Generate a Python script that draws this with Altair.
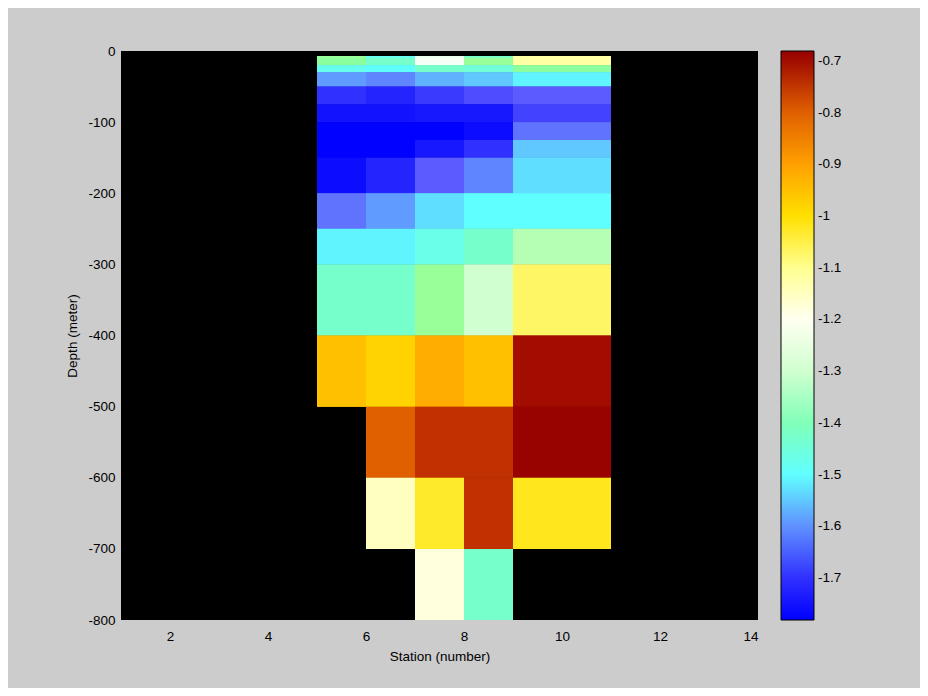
import altair as alt
import pandas as pd

# Station column edges (pcolor-style cells)
x_left = [5, 6, 7, 8, 9]
x_right = [6, 7, 8, 9, 11]

# Depth edges (meter), top to bottom
depth_top = [-7, -10, -20, -30, -50, -75, -100, -125, -150, -200, -250, -300, -400, -500, -600, -700]
depth_bot = [-10, -20, -30, -50, -75, -100, -125, -150, -200, -250, -300, -400, -500, -600, -700, -800]

# Cell values per depth row (columns: stations 5,6,7,8,9-11); None = no data
values = [
    [-1.36, -1.48, -1.27, -1.42, -1.12],
    [-1.38, -1.43, -1.26, -1.36, -1.12],
    [-1.48, -1.50, -1.43, -1.45, -1.38],
    [-1.59, -1.61, -1.57, -1.55, -1.51],
    [-1.70, -1.72, -1.69, -1.67, -1.655],
    [-1.75, -1.75, -1.74, -1.74, -1.68],
    [-1.78, -1.78, -1.78, -1.76, -1.63],
    [-1.78, -1.78, -1.74, -1.70, -1.55],
    [-1.76, -1.72, -1.655, -1.61, -1.53],
    [-1.63, -1.59, -1.53, -1.50, -1.50],
    [-1.51, -1.51, -1.47, -1.43, -1.33],
    [-1.43, -1.43, -1.36, -1.30, -1.07],
    [-0.95, -0.98, -0.92, -0.95, -0.70],
    [None, -0.80, -0.75, -0.75, -0.685],
    [None, -1.15, -1.03, -0.75, -1.02],
    [None, None, -1.18, -1.43, None],
]

x_ticks = [2, 4, 6, 8, 10, 12, 14]
y_ticks = [0, -100, -200, -300, -400, -500, -600, -700, -800]
cbar_ticks = [-0.7, -0.8, -0.9, -1.0, -1.1, -1.2, -1.3, -1.4, -1.5, -1.6, -1.7]

# colormap stops (style)
cmap_domain = [-1.781, -1.70, -1.65, -1.60, -1.55, -1.50, -1.45, -1.40, -1.37, -1.30, -1.25,
               -1.20, -1.10, -1.00, -0.90, -0.85, -0.80, -0.75, -0.681]
cmap_range = ["#0000ff", "#3030ff", "#6060ff", "#6090ff", "#60c8ff", "#60ffff", "#70ffd8",
              "#80ffb8", "#90ff90", "#d0ffd0", "#ffffff", "#fffff0", "#ffff90", "#ffe000",
              "#ffa000", "#ff8000", "#e06000", "#c03000", "#960000"]

rows = []
for i, row in enumerate(values):
    for j, v in enumerate(row):
        if v is None:
            continue
        rows.append({"x": x_left[j], "x2": x_right[j], "y": depth_top[i], "y2": depth_bot[i], "v": v})
df = pd.DataFrame(rows)

FONT = "Liberation Sans"
FS = 13.5

base = alt.Chart(df).mark_rect().encode(
    x=alt.X("x:Q", scale=alt.Scale(domain=[1, 14], nice=False, zero=False),
            axis=alt.Axis(title="Station (number)", values=x_ticks, grid=False, ticks=False,
                          tickSize=0, domain=False, labelPadding=9, titlePadding=7,
                          labelExpr="'' + datum.value")),
    x2="x2:Q",
    y=alt.Y("y:Q", scale=alt.Scale(domain=[-800, 0], nice=False, zero=False),
            axis=alt.Axis(title="Depth (meter)", values=y_ticks, grid=False, ticks=False,
                          tickSize=0, domain=False, labelPadding=6, titlePadding=8,
                          labelExpr="'' + datum.value")),
    y2="y2:Q",
    color=alt.Color("v:Q",
                    scale=alt.Scale(domain=cmap_domain, range=cmap_range, interpolate="rgb"),
                    legend=alt.Legend(title=None, orient="none", legendX=660, legendY=0,
                                      direction="vertical", gradientLength=569,
                                      gradientThickness=33, gradientStrokeColor="black",
                                      gradientStrokeWidth=1, values=cbar_ticks,
                                      labelOffset=4, labelOverlap=False,
                                      labelExpr="'' + datum.value")),
)

# drawn twice so anti-aliased seams between adjacent cells disappear
chart = alt.layer(base, base).properties(
    width=637, height=569,
    autosize=alt.AutoSizeParams(type="none"),
    padding={"left": 113, "top": 43, "right": 162, "bottom": 68},
    background="#cccccc",
).configure_view(
    fill="black", stroke=None
).configure_axis(
    labelFont=FONT, labelFontSize=FS, labelColor="black",
    titleFont=FONT, titleFontSize=FS, titleColor="black", titleFontWeight="normal",
).configure_legend(
    labelFont=FONT, labelFontSize=FS, labelColor="black",
)

chart.save("out.html", embed_options={"renderer": "svg", "actions": False})
